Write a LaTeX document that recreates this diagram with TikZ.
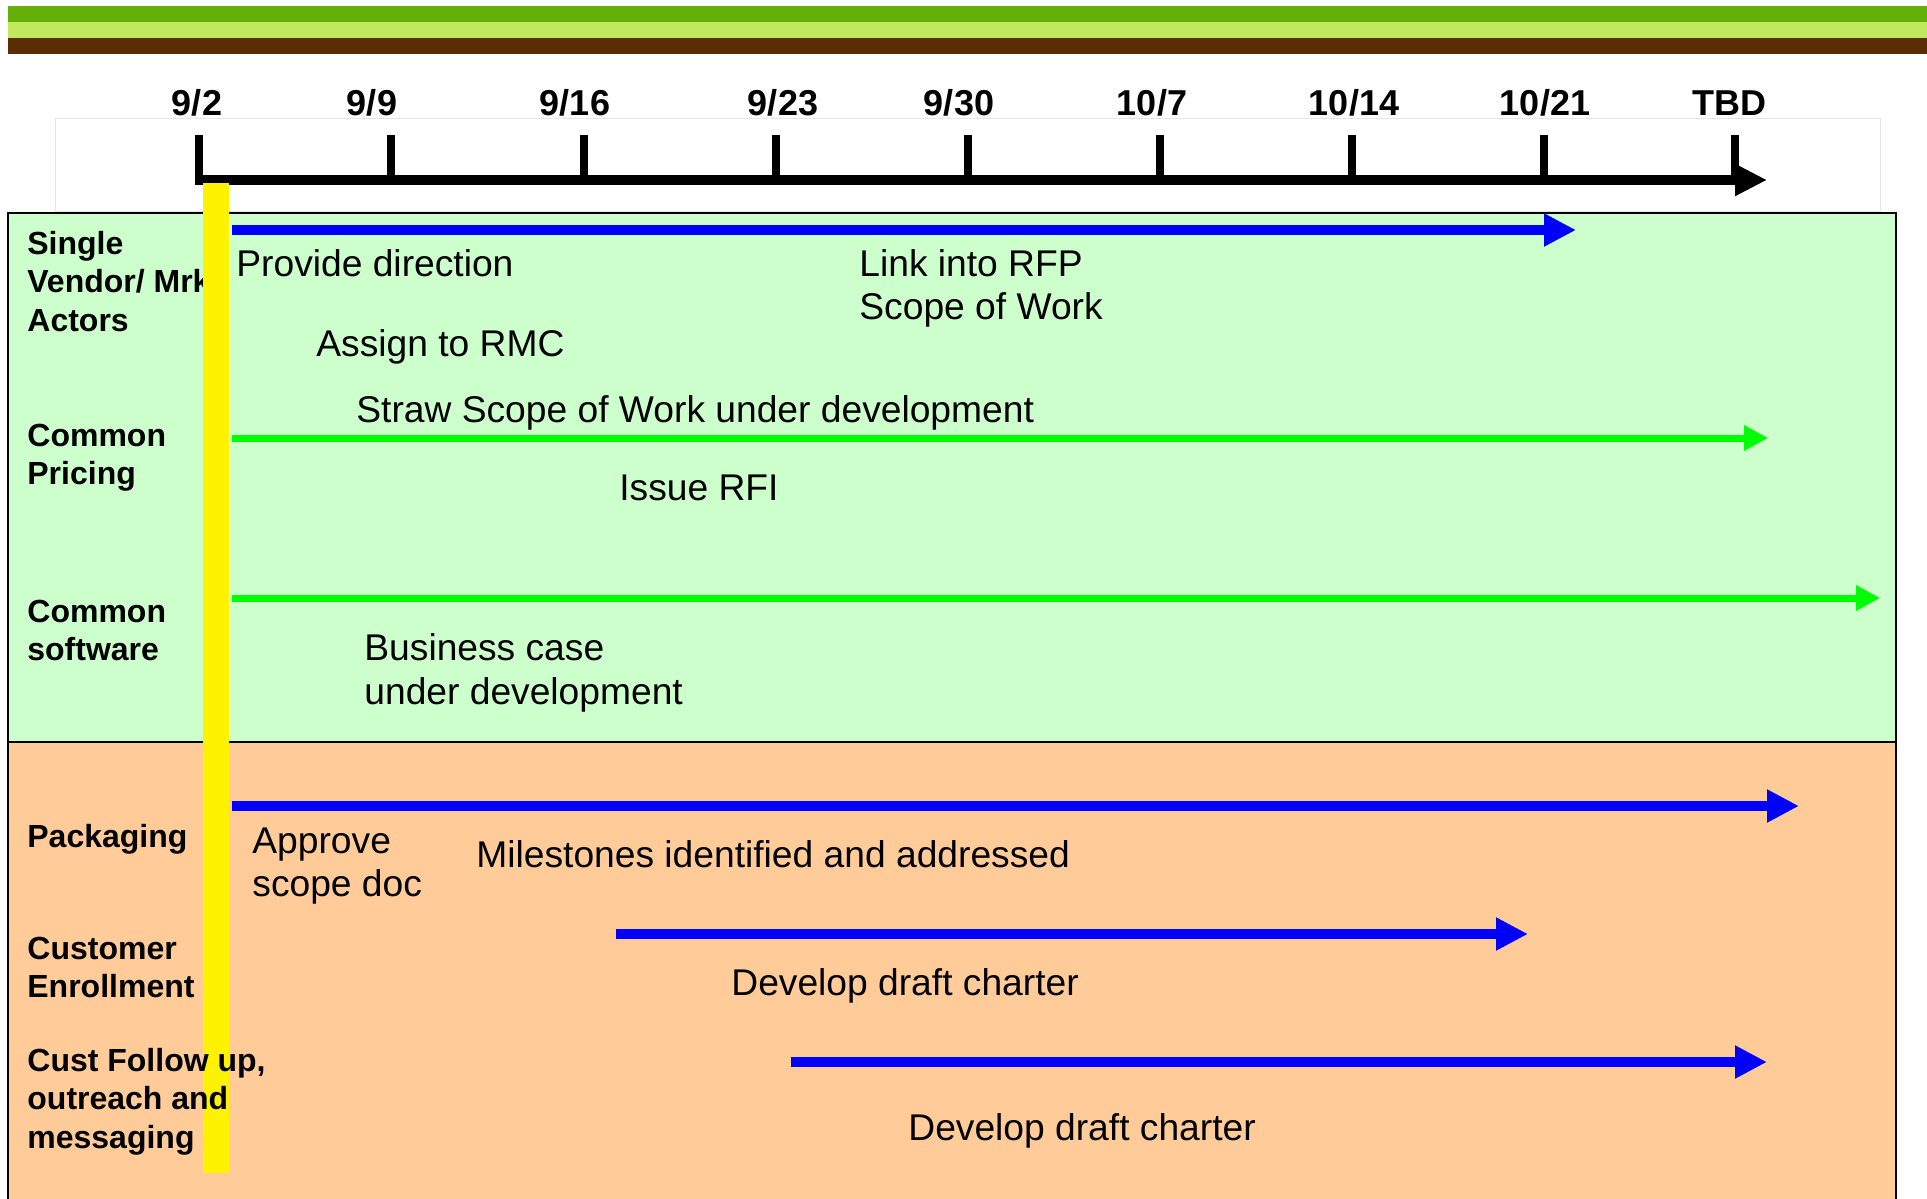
\documentclass[tikz,border=0pt]{standalone}
\usepackage{fontspec}
\setmainfont{Liberation Sans}
\usetikzlibrary{arrows.meta}
\definecolor{stripeA}{RGB}{100,176,8}
\definecolor{stripeB}{RGB}{194,232,94}
\definecolor{stripeC}{RGB}{90,45,4}
\definecolor{panelG}{RGB}{204,255,204}
\definecolor{panelO}{RGB}{255,204,153}
\definecolor{arrBlue}{RGB}{0,0,255}
\definecolor{arrGreen}{RGB}{0,255,0}
\begin{document}
\begin{tikzpicture}[x=0.5pt,y=-0.5pt,
  lab/.style={font=\fontsize{16}{18}\selectfont\bfseries, anchor=base west, inner sep=0pt},
  txt/.style={font=\fontsize{18.6}{22}\selectfont, anchor=base west, inner sep=0pt},
  datelab/.style={font=\fontsize{18}{21}\selectfont\bfseries, anchor=base, inner sep=0pt},
  tickline/.style={line width=4pt},
  bluearr/.style={draw=arrBlue, line width=5pt, -{Triangle[length=16pt,width=15.5pt]}},
  greenarr/.style={draw=arrGreen, line width=3.5pt, -{Triangle[length=12pt,width=12pt]}}]
\useasboundingbox (0,0) rectangle (1927,1199);
\fill[white] (0,0) rectangle (1927,1199);
% header stripes
\fill[stripeA] (8,6) rectangle (1927,22);
\fill[stripeB] (8,22) rectangle (1927,38);
\fill[stripeC] (8,38) rectangle (1927,54);
% faint timeline frame
\draw[gray!20, line width=0.5pt] (55,118) rectangle (1880,211);
% panels
\draw[fill=panelG, line width=1pt] (8,213) rectangle (1896,742);
\fill[panelO] (8,742) rectangle (1896,1199);
\draw[line width=1pt] (8,1199) -- (8,742) -- (1896,742) -- (1896,1199);
% timeline axis
\coordinate (ax0) at (195,180);
\coordinate (ax1) at (1767,180);
\draw[line width=5pt, -{Triangle[length=16pt,width=15pt]}] (ax0) -- (ax1);
\foreach \x in {199,391,584,776,968,1160,1352,1544,1735}
  \draw[tickline] (\x,135) -- (\x,185);
\node[datelab] (d1) at (197,115) {9/2};
\node[datelab] (d2) at (372,115) {9/9};
\node[datelab] (d3) at (575,115) {9/16};
\node[datelab] (d4) at (783,115) {9/23};
\node[datelab] (d5) at (959,115) {9/30};
\node[datelab] (d6) at (1152,115) {10/7};
\node[datelab] (d7) at (1354,115) {10/14};
\node[datelab] (d8) at (1545,115) {10/21};
\node[datelab] (d9) at (1729,115) {TBD};
% top row label (under the yellow bar)
\node[lab] (l1a) at (27,254) {Single};
\node[lab] (l1b) at (27,292) {Vendor/ Mrkt};
\node[lab] (l1c) at (27,331) {Actors};
% arrows
\coordinate (a1s) at (232,230);  \coordinate (a1e) at (1576,230);
\coordinate (a2s) at (232,438);  \coordinate (a2e) at (1768,438);
\coordinate (a3s) at (232,598);  \coordinate (a3e) at (1880,598);
\coordinate (a4s) at (232,806);  \coordinate (a4e) at (1799,806);
\coordinate (a5s) at (616,934);  \coordinate (a5e) at (1528,934);
\coordinate (a6s) at (791,1062); \coordinate (a6e) at (1767,1062);
\draw[bluearr] (a1s) -- (a1e);
\draw[greenarr] (a2s) -- (a2e);
\draw[greenarr] (a3s) -- (a3e);
\draw[bluearr] (a4s) -- (a4e);
\draw[bluearr] (a5s) -- (a5e);
\draw[bluearr] (a6s) -- (a6e);
% yellow "today" bar
\fill[yellow] (203,183) rectangle (229,1173);
% row labels
\node[lab] (l2a) at (27,446) {Common};
\node[lab] (l2b) at (27,484) {Pricing};
\node[lab] (l3a) at (27,622) {Common};
\node[lab] (l3b) at (27,660) {software};
\node[lab] (l4a) at (27,847) {Packaging};
\node[lab] (l5a) at (27,959) {Customer};
\node[lab] (l5b) at (27,997) {Enrollment};
\node[lab] (l6a) at (27,1071) {Cust Follow up,};
\node[lab] (l6b) at (27,1109) {outreach and};
\node[lab] (l6c) at (27,1148) {messaging};
% activity texts
\node[txt] (t1) at (236,276) {Provide direction};
\node[txt] (t2a) at (859,276) {Link into RFP};
\node[txt] (t2b) at (859,319) {Scope of Work};
\node[txt] (t3) at (316,356) {Assign to RMC};
\node[txt] (t4) at (356,422) {Straw Scope of Work under development};
\node[txt] (t5) at (619,500) {Issue RFI};
\node[txt] (t6a) at (364,660) {Business case};
\node[txt] (t6b) at (364,704) {under development};
\node[txt] (t7a) at (252,853) {Approve};
\node[txt] (t7b) at (252,896) {scope doc};
\node[txt] (t8) at (476,867) {Milestones identified and addressed};
\node[txt] (t9) at (731,995) {Develop draft charter};
\node[txt] (t10) at (908,1140) {Develop draft charter};
\end{tikzpicture}
\end{document}
